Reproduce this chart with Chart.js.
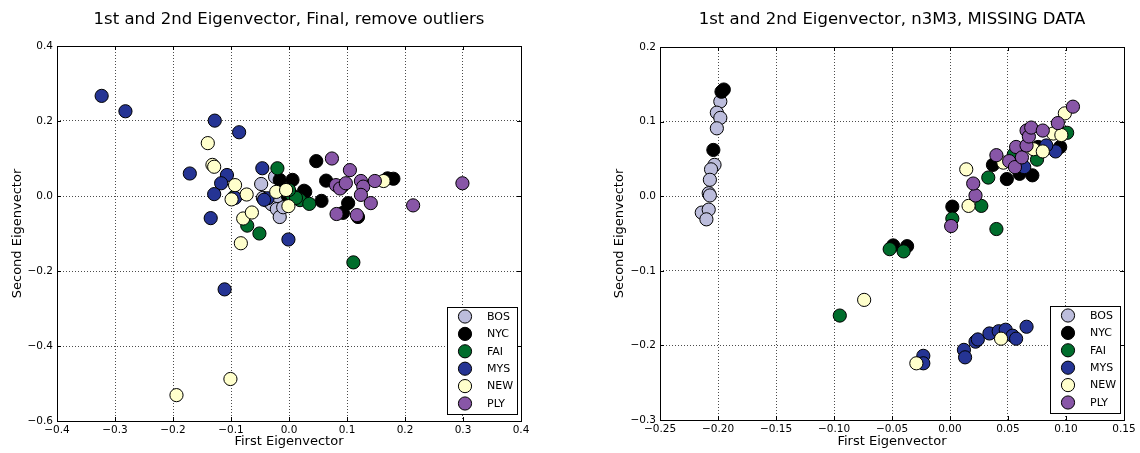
<!DOCTYPE html>
<html><head><meta charset="utf-8">
<script src="https://cdn.jsdelivr.net/npm/chart.js@4.4.0/dist/chart.umd.min.js"></script>
<style>
html,body{margin:0;padding:0;background:#fff;}
#wrap{position:relative;width:1140px;height:453px;overflow:hidden;}
canvas{position:absolute;top:0;}
#c1{left:0}
#c2{left:570px}
</style></head><body>
<div id="wrap"><canvas id="c1" width="570" height="453"></canvas><canvas id="c2" width="570" height="453"></canvas></div>
<script>
// ---------- categories / styles ----------
const seriesLabels = ['BOS','NYC','FAI','MYS','NEW','PLY'];
const seriesColors = ['#bcbddc','#000000','#006d2c','#253494','#ffffcc','#8856a7'];

// ---------- left plot: "Final, remove outliers" ----------
const finalBOS = [[-0.048,0.032],[-0.045,-0.005],[-0.038,-0.012],[-0.030,-0.022],[-0.021,-0.035],[-0.016,-0.056],[-0.010,-0.030],[-0.020,0.000],[-0.024,0.051]];
const finalNYC = [[-0.016,0.043],[0.006,0.043],[-0.002,0.000],[0.026,0.014],[0.028,0.011],[0.056,-0.013],[0.047,0.093],[0.064,0.041],[0.091,0.025],[0.102,-0.019],[0.093,-0.045],[0.119,-0.056],[0.170,0.047],[0.180,0.046]];
const finalFAI = [[-0.020,0.074],[0.005,0.003],[0.019,-0.011],[0.035,-0.021],[0.012,-0.005],[0.000,0.016],[-0.095,-0.003],[-0.072,-0.079],[-0.051,-0.100],[0.111,-0.177]];
const finalMYS = [[-0.323,0.267],[-0.282,0.226],[-0.128,0.201],[-0.086,0.170],[-0.171,0.060],[-0.107,0.056],[-0.117,0.034],[-0.129,0.005],[-0.046,0.074],[-0.037,-0.006],[-0.043,-0.010],[-0.093,-0.005],[-0.135,-0.059],[-0.001,-0.116],[-0.111,-0.249]];
const finalNEW = [[-0.140,0.141],[-0.132,0.083],[-0.129,0.078],[-0.093,0.029],[-0.073,0.004],[-0.099,-0.009],[-0.079,-0.060],[-0.064,-0.044],[-0.083,-0.126],[-0.022,0.011],[-0.005,0.016],[-0.001,-0.027],[0.163,0.040],[-0.101,-0.488],[-0.194,-0.531]];
const finalPLY = [[0.074,0.100],[0.105,0.069],[0.081,0.029],[0.088,0.020],[0.098,0.034],[0.124,0.040],[0.128,0.025],[0.124,0.003],[0.141,-0.019],[0.148,0.040],[0.082,-0.048],[0.117,-0.051],[0.214,-0.025],[0.299,0.034]];

// ---------- right plot: "n3M3, MISSING DATA" ----------
const n3m3BOS = [[-0.198,0.127],[-0.201,0.112],[-0.198,0.105],[-0.201,0.091],[-0.203,0.042],[-0.206,0.036],[-0.207,0.022],[-0.208,0.004],[-0.207,0.001],[-0.214,-0.022],[-0.208,-0.018],[-0.210,-0.031]];
const n3m3NYC = [[-0.195,0.143],[-0.197,0.140],[-0.204,0.062],[-0.049,-0.066],[-0.037,-0.067],[0.002,-0.014],[0.037,0.042],[0.049,0.023],[0.060,0.030],[0.071,0.028],[0.095,0.066],[0.076,0.066]];
const n3m3FAI = [[-0.095,-0.160],[-0.052,-0.071],[-0.040,-0.074],[0.002,-0.030],[0.027,-0.013],[0.040,-0.044],[0.033,0.025],[0.075,0.049],[0.101,0.085],[0.055,0.056]];
const n3m3MYS = [[-0.023,-0.214],[-0.023,-0.224],[0.012,-0.206],[0.013,-0.216],[0.022,-0.195],[0.024,-0.192],[0.034,-0.184],[0.042,-0.181],[0.048,-0.179],[0.054,-0.187],[0.057,-0.191],[0.066,-0.175],[0.091,0.060],[0.083,0.068],[0.064,0.039]];
const n3m3NEW = [[-0.074,-0.139],[-0.029,-0.224],[0.044,-0.191],[0.016,-0.013],[0.014,0.036],[0.046,0.045],[0.072,0.063],[0.080,0.060],[0.089,0.084],[0.096,0.082],[0.099,0.111]];
const n3m3PLY = [[0.001,-0.040],[0.022,0.001],[0.020,0.017],[0.040,0.055],[0.051,0.047],[0.056,0.039],[0.057,0.066],[0.062,0.052],[0.066,0.068],[0.066,0.088],[0.068,0.080],[0.070,0.092],[0.080,0.088],[0.093,0.098],[0.106,0.120]];

// ---------- tick labels ----------
const leftXTicks = [-0.4,-0.3,-0.2,-0.1,0.0,0.1,0.2,0.3,0.4];
const leftYTicks = [-0.6,-0.4,-0.2,0.0,0.2,0.4];
const rightXTicks = [-0.25,-0.20,-0.15,-0.10,-0.05,0.00,0.05,0.10,0.15];
const rightYTicks = [-0.3,-0.2,-0.1,0.0,0.1,0.2];

const FONT = "'DejaVu Sans', sans-serif";

function fmt(v, d){ return v.toFixed(d).replace('-', '\u2212'); }

function makeDatasets(groups){
  return groups.map((g, i) => ({
    label: seriesLabels[i],
    data: g.map(p => ({x: p[0], y: p[1]})),
    backgroundColor: seriesColors[i],
    borderColor: '#000',
    borderWidth: 1,
    pointRadius: 6.6,
    pointHoverRadius: 6.6,
    order: groups.length - i
  }));
}

const framePlugin = {
  id: 'frameAndLegend',
  afterDraw(chart){
    const ctx = chart.ctx, a = chart.chartArea;
    const xs = chart.scales.x, ys = chart.scales.y;
    ctx.save();
    ctx.strokeStyle = '#000';
    ctx.lineWidth = 1;
    // inward tick marks
    ctx.beginPath();
    xs.ticks.forEach(t => {
      const px = Math.round(xs.getPixelForValue(t.value)) + 0.5;
      ctx.moveTo(px, a.bottom); ctx.lineTo(px, a.bottom - 4);
      ctx.moveTo(px, a.top); ctx.lineTo(px, a.top + 4);
    });
    ys.ticks.forEach(t => {
      const py = Math.round(ys.getPixelForValue(t.value)) + 0.5;
      ctx.moveTo(a.left, py); ctx.lineTo(a.left + 4, py);
      ctx.moveTo(a.right, py); ctx.lineTo(a.right - 4, py);
    });
    ctx.stroke();
    // frame
    ctx.strokeRect(Math.round(a.left) + 0.5, Math.round(a.top) + 0.5, Math.round(a.right - a.left), Math.round(a.bottom - a.top));
    // legend
    const w = 70, h = 107;
    const x0 = Math.round(a.right - 4 - w), y0 = Math.round(a.bottom - 7 - h);
    ctx.fillStyle = '#fff';
    ctx.fillRect(x0, y0, w, h);
    ctx.strokeRect(x0 + 0.5, y0 + 0.5, w, h);
    ctx.font = '11px ' + FONT;
    ctx.textBaseline = 'middle';
    ctx.textAlign = 'left';
    chart.data.datasets.forEach((ds, i) => {
      const cy = y0 + 9.5 + i * 17.4;
      ctx.beginPath();
      ctx.arc(x0 + 18, cy, 6.6, 0, Math.PI * 2);
      ctx.fillStyle = ds.backgroundColor;
      ctx.fill();
      ctx.stroke();
      ctx.fillStyle = '#000';
      ctx.fillText(ds.label, x0 + 40, cy + 0.5);
    });
    ctx.restore();
  }
};

function makeChart(id, title, groups, xT, yT, xDec, yDec, yAxisW, xAxisH, padRight, titleBottom, yTitlePad){
  return new Chart(document.getElementById(id), {
    type: 'scatter',
    data: { datasets: makeDatasets(groups) },
    options: {
      responsive: false,
      animation: false,
      events: [],
      layout: { padding: { left: 0, right: padRight, top: 0, bottom: 0 } },
      plugins: {
        legend: { display: false },
        tooltip: { enabled: false },
        title: {
          display: true, text: title, color: '#000', fullSize: false,
          font: { family: FONT, size: 16.5, weight: 'normal' },
          padding: { top: 10, bottom: titleBottom }
        }
      },
      scales: {
        x: {
          type: 'linear', min: xT[0], max: xT[xT.length - 1],
          afterBuildTicks: s => { s.ticks = xT.map(v => ({ value: v })); },
          afterFit: s => { s.height = xAxisH; },
          ticks: { callback: v => fmt(v, xDec), color: '#000', font: { family: FONT, size: 10.5 }, padding: 3, maxRotation: 0, autoSkip: false },
          grid: { color: 'rgba(0,0,0,0.7)', lineWidth: 1, drawTicks: false, tickLength: 0 },
          border: { display: false, dash: [1, 2] },
          title: { display: true, text: 'First Eigenvector', color: '#000', font: { family: FONT, size: 13 }, padding: { top: 0, bottom: 4 } }
        },
        y: {
          type: 'linear', min: yT[0], max: yT[yT.length - 1],
          afterBuildTicks: s => { s.ticks = yT.map(v => ({ value: v })); },
          afterFit: s => { s.width = yAxisW; },
          ticks: { callback: v => fmt(v, yDec), color: '#000', font: { family: FONT, size: 10.5 }, padding: 4, autoSkip: false },
          grid: { color: 'rgba(0,0,0,0.7)', lineWidth: 1, drawTicks: false, tickLength: 0 },
          border: { display: false, dash: [1, 2] },
          title: { display: true, text: 'Second Eigenvector', color: '#000', font: { family: FONT, size: 13 }, padding: { top: yTitlePad, bottom: 0 } }
        }
      }
    },
    plugins: [framePlugin]
  });
}

makeChart('c1', '1st and 2nd Eigenvector, Final, remove outliers',
  [finalBOS, finalNYC, finalFAI, finalMYS, finalNEW, finalPLY],
  leftXTicks, leftYTicks, 1, 1, 57, 32, 49, 16.2, 10);
makeChart('c2', '1st and 2nd Eigenvector, n3M3, MISSING DATA',
  [n3m3BOS, n3m3NYC, n3m3FAI, n3m3MYS, n3m3NEW, n3m3PLY],
  rightXTicks, rightYTicks, 2, 1, 90, 33, 16, 17.2, 42);
</script>
</body></html>
